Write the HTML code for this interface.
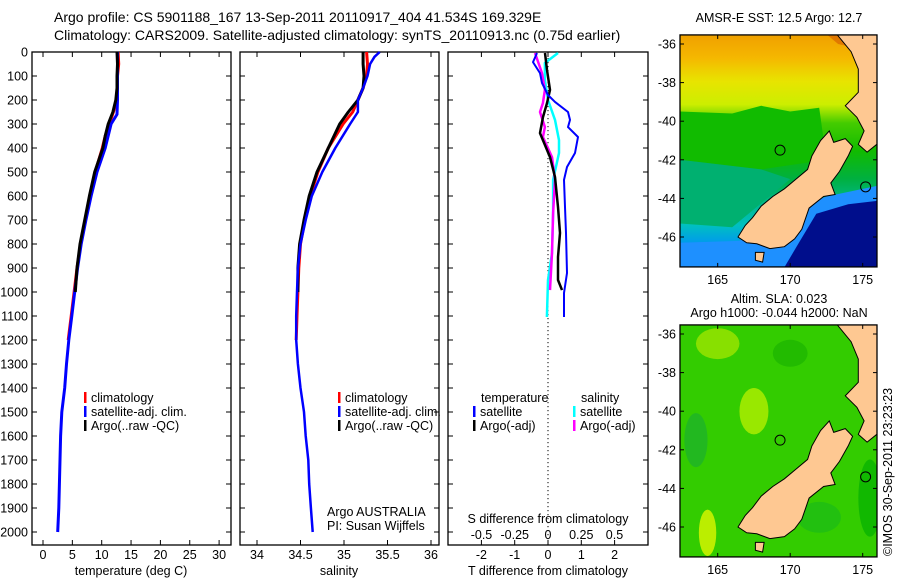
<!DOCTYPE html>
<html><head><meta charset="utf-8">
<style>
html,body{margin:0;padding:0;background:#fff;}
svg{display:block;font-family:"Liberation Sans",sans-serif;}
text{font-size:12.5px;fill:#000;}
</style></head>
<body>
<svg id="fig" width="900" height="580" viewBox="0 0 900 580" xmlns="http://www.w3.org/2000/svg">
<defs>
<clipPath id="clipTop"><rect x="680" y="35" width="197" height="232"/></clipPath>
<clipPath id="clipBot"><rect x="680" y="325" width="197" height="232"/></clipPath>
<linearGradient id="sstGrad" x1="0" y1="0" x2="0" y2="1">
<stop offset="0" stop-color="#f0a000"/><stop offset="0.1" stop-color="#f5b800"/>
<stop offset="0.2" stop-color="#e8e400"/><stop offset="0.3" stop-color="#ccee00"/>
<stop offset="0.38" stop-color="#44cc00"/><stop offset="0.5" stop-color="#11bb00"/>
<stop offset="0.62" stop-color="#00b040"/><stop offset="0.72" stop-color="#00b88a"/>
<stop offset="0.82" stop-color="#00c0c0"/><stop offset="0.9" stop-color="#0099ee"/>
<stop offset="1" stop-color="#0044cc"/></linearGradient>
</defs>
<text x="54" y="22" style="font-size:14px">Argo profile: CS 5901188_167 13-Sep-2011 20110917_404 41.534S 169.329E</text>
<text x="54" y="40" style="font-size:14px">Climatology: CARS2009. Satellite-adjusted climatology: synTS_20110913.nc (0.75d earlier)</text>
<g id="panels"></g>
<g id="maps"></g>
<text x="779" y="22" text-anchor="middle">AMSR-E SST: 12.5 Argo: 12.7</text>
<text x="779" y="303" text-anchor="middle">Altim. SLA: 0.023</text>
<text x="779" y="317" text-anchor="middle">Argo h1000: -0.044 h2000: NaN</text>
<text transform="translate(892,556) rotate(-90)">©IMOS 30-Sep-2011 23:23:23</text>
</svg>
<script>
// ---- data ----
const tempClimDepth=[0,50,100,150,200,250,300,350,400,500,600,700,800,900,1000,1100,1200];
const tempClim=[12.8,12.9,12.7,12.6,12.6,12.0,11.3,10.6,10.1,8.9,8.0,7.2,6.4,5.8,5.3,4.8,4.3];
const tempSatDepth=[0,100,200,260,300,400,500,600,700,800,900,1000,1100,1200,1300,1400,1500,1600,1700,1800,1900,2000];
const tempSat=[12.7,12.7,12.7,12.6,11.6,10.6,9.2,8.2,7.3,6.5,5.9,5.4,4.9,4.4,4.0,3.7,3.2,3.0,2.9,2.8,2.7,2.5];
const tempArgoDepth=[0,50,100,150,200,250,300,350,400,500,600,700,800,900,1000];
const tempArgo=[12.6,12.7,12.6,12.6,12.4,11.9,11.1,10.6,10.2,8.8,7.9,7.1,6.3,5.8,5.5];
const salClimDepth=[0,50,100,150,200,250,300,400,500,600,700,800,900,1000,1100,1200];
const salClim=[35.26,35.27,35.26,35.22,35.16,35.1,34.99,34.82,34.7,34.61,34.55,34.5,34.48,34.47,34.46,34.45];
const salSatDepth=[0,20,50,100,150,200,250,300,400,500,600,700,800,900,1000,1100,1200,1300,1400,1500,1600,1700,1800,1900,2000];
const salSat=[35.41,35.35,35.3,35.27,35.22,35.16,35.16,35.07,34.9,34.75,34.63,34.56,34.5,34.47,34.46,34.45,34.45,34.47,34.5,34.54,34.56,34.59,34.6,34.62,34.64];
const salArgoDepth=[0,50,100,150,200,250,300,400,500,600,700,800,900,1000];
const salArgo=[35.22,35.22,35.23,35.22,35.16,35.05,34.95,34.82,34.69,34.6,34.54,34.49,34.47,34.47];
const dTsatDepth=[4,42,88,129,179,208,250,283,313,354,421,479,533,646,754,921,1004,1104];
const dTsat=[-0.33,-0.45,-0.24,-0.18,0,0.21,0.6,0.66,0.6,0.9,0.81,0.57,0.48,0.51,0.54,0.57,0.48,0.48];
const dTargoDepth=[4,75,158,213,271,338,438,521,646,754,854,950,992];
const dTargo=[-0.09,-0.03,0.06,-0.03,-0.15,-0.24,0.06,0.21,0.3,0.36,0.3,0.3,0.42];
const dSsatDepth=[4,46,117,200,283,367,421,533,671,838,950,1104];
const dSsat=[0.075,-0.023,-0.023,0,0.053,0.083,0.083,0.038,0.038,0.03,0,-0.008];
const dSargoDepth=[4,88,158,213,250,313,354,438,533,671,838,992];
const dSargo=[-0.098,-0.045,-0.023,-0.038,-0.06,-0.023,-0.038,0.03,0.053,0.038,0.03,0.015];
const depthTicks=[0,100,200,300,400,500,600,700,800,900,1000,1100,1200,1300,1400,1500,1600,1700,1800,1900,2000];
const tempTicks=[0,5,10,15,20,25,30];
const salTicks=[34,34.5,35,35.5,36];
const dTTicks=[-2,-1,0,1,2];
const dSTicks=[-0.5,-0.25,0,0.25,0.5];
const latTicks=[-36,-38,-40,-42,-44,-46];
const lonTicks=[165,170,175];
// ---- scales ----
const NS="http://www.w3.org/2000/svg";
const TOP=52,BOT=545;
const yD=d=>TOP+d*0.24;
const xT=t=>43+t*5.87;
const xS=s=>257+(s-34)*87;
const xdT=t=>548+t*33.3;
const xdS=s=>548+s*133;
const panels=document.getElementById('panels');
function el(tag,attrs,parent,txt){const e=document.createElementNS(NS,tag);for(const k in attrs)e.setAttribute(k,attrs[k]);if(txt!==undefined)e.textContent=txt;(parent||panels).appendChild(e);return e;}
function frame(x0,x1,name){
  const r=el('rect',{x:x0,y:TOP,width:x1-x0,height:BOT-TOP,fill:'none',stroke:'#000','stroke-width':1.3});
  
  
  depthTicks.forEach(d=>{el('line',{x1:x0,x2:x0+5,y1:yD(d),y2:yD(d),stroke:'#000'});el('line',{x1:x1-5,x2:x1,y1:yD(d),y2:yD(d),stroke:'#000'});});
}
function xticks(vals,f,labY,bottom,topTicks){
  vals.forEach(v=>{const x=f(v);
    if(bottom){el('line',{x1:x,x2:x,y1:BOT-5,y2:BOT,stroke:'#000'});}
    if(topTicks){el('line',{x1:x,x2:x,y1:TOP,y2:TOP+5,stroke:'#000'});}
    const t=el('text',{x:x,y:labY,'text-anchor':'middle'},undefined,String(v));
    
    
  });
}
function line(xs,ds,fx,color,w,name){
  const p=xs.map((v,i)=>fx(v).toFixed(1)+','+yD(ds[i]).toFixed(1)).join(' ');
  const e=el('polyline',{points:p,fill:'none',stroke:color,'stroke-width':w,'stroke-linejoin':'round'});
  
  
}
// panel frames
frame(32,231,'temperature-panel');frame(240,439,'salinity-panel');frame(448,648,'difference-panel');
depthTicks.forEach(d=>{const t=el('text',{x:28,y:yD(d)+4.5,'text-anchor':'end'},undefined,String(d));
  
  });
xticks(tempTicks,xT,559,true,true);
xticks(salTicks,xS,559,true,true);
xticks(dTTicks,xdT,559,true,true);
xticks(dSTicks,xdS,539,false,false);
[['temperature (deg C)',131,'temperature-axis-title'],['salinity',339,'salinity-axis-title'],['T difference from climatology',548,'t-diff-axis-title']].forEach(a=>{
  const t=el('text',{x:a[1],y:575,'text-anchor':'middle'},undefined,a[0]);
  
  });
const sdt=el('text',{x:548,y:523,'text-anchor':'middle'},undefined,'S difference from climatology');


// zero line
for(let y=TOP+2;y<BOT;y+=4)el('rect',{x:547.5,y:y,width:1,height:1.2,fill:'#000'});
// series
line(tempClim,tempClimDepth,xT,'#ff0000',3,'temp-climatology-line');
line(tempSat,tempSatDepth,xT,'#0000ff',3,'temp-satellite-line');
line(tempArgo,tempArgoDepth,xT,'#000',3,'temp-argo-line');
line(salClim,salClimDepth,xS,'#ff0000',3,'sal-climatology-line');
line(salArgo,salArgoDepth,xS,'#000',3,'sal-argo-line');
line(salSat,salSatDepth,xS,'#0000ff',2.5,'sal-satellite-line');
line(dSsat,dSsatDepth,xdS,'#00ffff',2.5,'s-diff-satellite-line');
line(dSargo,dSargoDepth,xdS,'#ff00ff',2.5,'s-diff-argo-line');
line(dTargo,dTargoDepth,xdT,'#000',2.5,'t-diff-argo-line');
line(dTsat,dTsatDepth,xdT,'#0000ff',2,'t-diff-satellite-line');
// legends
function leg(x,y,color,label){
  const m=el('rect',{x:x,y:y-10,width:2.5,height:11,fill:color});
  
  
  const t=el('text',{x:x+7,y:y},undefined,label);
  
  
}
[[84,'climatology','#ff0000'],[84,'satellite-adj. clim.','#0000ff'],[84,'Argo(..raw -QC)','#000']].forEach((a,i)=>leg(a[0],402+i*14,a[2],a[1]));
[[338,'climatology','#ff0000'],[338,'satellite-adj. clim.','#0000ff'],[338,'Argo(..raw -QC)','#000']].forEach((a,i)=>leg(a[0],402+i*14,a[2],a[1]));
const lt=el('text',{x:481,y:402},undefined,'temperature');
const ls=el('text',{x:581,y:402},undefined,'salinity');
leg(473,416,'#0000ff','satellite');leg(473,430,'#000','Argo(-adj)');
leg(573,416,'#00ffff','satellite');leg(573,430,'#ff00ff','Argo(-adj)');
const a1=el('text',{x:327,y:516},undefined,'Argo AUSTRALIA');
const a2=el('text',{x:327,y:530},undefined,'PI: Susan Wijffels');

// ---- maps ----
const maps=document.getElementById('maps');
const mx=lon=>680+(lon-162.4)*14.5;
const si=[[166.4,-46.0],[166.9,-45.4],[167.4,-45.0],[168.0,-44.4],[168.8,-43.9],[169.6,-43.5],[170.4,-43.0],[171.2,-42.5],[171.5,-41.8],[172.1,-41.0],[172.7,-40.5],[173.0,-41.1],[173.8,-40.9],[174.3,-41.3],[174.0,-41.8],[173.4,-42.6],[172.8,-43.2],[173.1,-43.8],[172.3,-43.9],[171.3,-44.5],[170.8,-45.6],[170.3,-46.1],[169.6,-46.5],[168.6,-46.6],[167.7,-46.35],[167.0,-46.3]];
const ni=[[173.0,-35.3],[174.2,-36.4],[174.7,-37.3],[174.7,-38.5],[173.8,-39.2],[174.6,-39.8],[175.1,-40.5],[174.7,-41.2],[175.3,-41.6],[176.3,-41.0],[176.3,-35.3]];
const stw=[[167.6,-46.8],[168.2,-46.8],[168.1,-47.3],[167.6,-47.2]];
function drawMap(top0,clip,kind){
  const my=lat=>top0+(-36-lat)*19.3;
  const g=document.createElementNS(NS,'g');g.setAttribute('clip-path','url(#'+clip+')');maps.appendChild(g);
  const poly=(pts,fill,stroke,name)=>{const e=el('polygon',{points:pts.map(p=>mx(p[0]).toFixed(1)+','+my(p[1]).toFixed(1)).join(' '),fill:fill,stroke:stroke||'none','stroke-width':1},g);return e;};
  const fy=my(-35.53);
  if(kind==='sst'){
    const bg=el('rect',{x:680,y:fy,width:197,height:232,fill:'url(#sstGrad)'},g);
    
    poly([[162.4,-39.5],[166,-39.6],[168,-39.2],[170,-39.5],[172,-39.3],[172.5,-42],[168,-42.5],[162.4,-42]],'#11bb00',null,'sst-green-zone');
    poly([[162.4,-42],[168,-42.5],[170,-43],[166,-45.5],[162.4,-45.3]],'#00b070',null,'sst-teal-zone');
    poly([[166.5,-46.2],[170.5,-44.5],[172.5,-43.9],[176.3,-43.3],[176.3,-47.7],[162.4,-47.7],[162.4,-46.3]],'#1e90ff',null,'sst-blue-zone');
    poly([[170.6,-46.3],[171.8,-44.8],[174,-44.3],[176.3,-44.1],[176.3,-47.7],[169.5,-47.7]],'#000e8c',null,'sst-navy-zone');
    poly([[172.2,-35.3],[173.3,-36.0],[176.3,-36.5],[176.3,-35.3]],'#e07800',null,'sst-warm-zone');
  } else {
    const bg=el('rect',{x:680,y:fy,width:197,height:232,fill:'#33cc00'},g);
    
    [[165,-36.5,1.5,0.8,'#88e000'],[170,-37,1.2,0.7,'#22bb00'],[167.5,-40,1.0,1.2,'#99e800'],[164.3,-46.3,0.6,1.2,'#bbee00'],[163.5,-41.5,0.8,1.4,'#22b820'],[172,-45.5,1.5,0.8,'#22c010'],[175.5,-44.5,0.8,2,'#11b800'],[169,-45.5,0.9,0.9,'#66d800']].forEach(b=>{
      const e=el('ellipse',{cx:mx(b[0]),cy:my(b[1]),rx:b[2]*14.5,ry:b[3]*19.3,fill:b[4]},g);
      });
  }
  poly(si,'#fec892','#000','south-island');
  poly(ni,'#fec892','#000','north-island');
  poly(stw,'#fec892','#000','stewart-island');
  [[169.3,-41.5],[175.2,-43.4]].forEach(c=>{const e=el('circle',{cx:mx(c[0]),cy:my(c[1]),r:5,fill:'none',stroke:'#000'},g);});
  const fr=el('rect',{x:680,y:fy,width:197,height:232,fill:'none',stroke:'#000','stroke-width':1.3},maps);
  
  latTicks.forEach(l=>{const y=my(l);el('line',{x1:680,x2:684,y1:y,y2:y,stroke:'#000'},maps);el('line',{x1:873,x2:877,y1:y,y2:y,stroke:'#000'},maps);
    const t=el('text',{x:676,y:y+4.5,'text-anchor':'end'},maps,String(l));});
  lonTicks.forEach(l=>{const x=mx(l);el('line',{x1:x,x2:x,y1:fy+232-4,y2:fy+232,stroke:'#000'},maps);el('line',{x1:x,x2:x,y1:fy,y2:fy+4,stroke:'#000'},maps);
    const t=el('text',{x:x,y:fy+249,'text-anchor':'middle'},maps,String(l));});
}
drawMap(44,'clipTop','sst');
drawMap(334,'clipBot','sla');
</script>
</body></html>
